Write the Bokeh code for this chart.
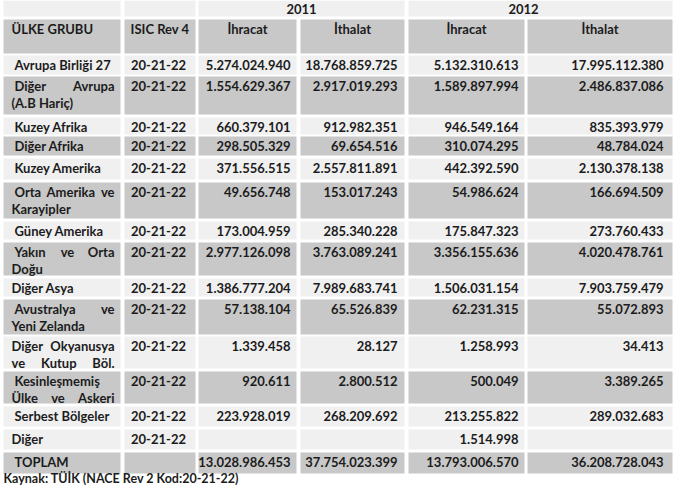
from bokeh.plotting import figure
from bokeh.models import Range1d
from bokeh.core.properties import value
from bokeh.embed import file_html
from bokeh.resources import INLINE

# ---------------- data ----------------
years = ["2011", "2012"]
col_headers = ["ÜLKE GRUBU", "ISIC Rev 4", "İhracat", "İthalat", "İhracat", "İthalat"]
groups = [
    "Avrupa Birliği 27",
    "Diğer Avrupa (A.B Hariç)",
    "Kuzey Afrika",
    "Diğer Afrika",
    "Kuzey Amerika",
    "Orta Amerika ve Karayipler",
    "Güney Amerika",
    "Yakın ve Orta Doğu",
    "Diğer Asya",
    "Avustralya ve Yeni Zelanda",
    "Diğer Okyanusya ve Kutup Böl.",
    "Kesinleşmemiş Ülke ve Askeri",
    "Serbest Bölgeler",
    "Diğer",
    "TOPLAM",
]
isic = ["20-21-22", "20-21-22", "20-21-22", "20-21-22", "20-21-22",
        "20-21-22", "20-21-22", "20-21-22", "20-21-22", "20-21-22",
        "20-21-22", "20-21-22", "20-21-22", "20-21-22", ""]
ihracat_2011 = [5274024940, 1554629367, 660379101, 298505329, 371556515,
                49656748, 173004959, 2977126098, 1386777204, 57138104,
                1339458, 920611, 223928019, None, 13028986453]
ithalat_2011 = [18768859725, 2917019293, 912982351, 69654516, 2557811891,
                153017243, 285340228, 3763089241, 7989683741, 65526839,
                28127, 2800512, 268209692, None, 37754023399]
ihracat_2012 = [5132310613, 1589897994, 946549164, 310074295, 442392590,
                54986624, 175847323, 3356155636, 1506031154, 62231315,
                1258993, 500049, 213255822, 1514998, 13793006570]
ithalat_2012 = [17995112380, 2486837086, 835393979, 48784024, 2130378138,
                166694509, 273760433, 4020478761, 7903759479, 55072893,
                34413, 3389265, 289032683, None, 36208728043]
source_note = "Kaynak: TÜİK (NACE Rev 2 Kod:20-21-22)"

# ---------------- layout (reference pixel coordinates) ----------------
col_left = [3, 124, 198, 300, 408, 527]
col_right = [120, 195, 296, 404, 524, 672]
num_right = [290, 397, 518, 663]
year_cells = [(3, 120), (124, 195), (198, 404), (408, 672)]
year_text_x = [301, 523]
year_row = (0, 16)
header_row = (19, 53)
row_top = [55, 76, 117, 136, 158, 182, 221, 242, 278, 299, 336, 371, 406, 429, 452]
row_bot = [74, 114, 134, 155, 179, 218, 239, 275, 296, 334, 368, 403, 426, 449, 473]
row_dark = [False, True, False, True, False, True, False, True, False, True,
            False, True, False, False, True]
# number of words on first line (None = single line)
wrap_after = [None, 2, None, None, None, 3, None, 3, None, 2, 2, 1, None, None, None]
justified = {(1, 0), (5, 0), (7, 0), (9, 0), (10, 0), (10, 1), (11, 1)}
indented = [True, True, True, True, True, True, True, True, False, True,
            False, True, True, False, True]
TXT_LEFT, TXT_LEFT_IND, TXT_RIGHT = 11, 14, 114
LINE0, LINE_H = 9.5, 16.5

DARK, LIGHT, INK = "#c8c8c8", "#f0f0f0", "#1c1c1c"
FONT = value("Lato")
FSIZE = 13
FS = f"{FSIZE}px"

CW = {'a': .52, 'b': .57, 'c': .46, 'd': .57, 'e': .53, 'f': .33, 'g': .51, 'ğ': .51,
      'h': .57, 'i': .25, 'ı': .25, 'k': .52, 'l': .25, 'm': .85, 'n': .57, 'o': .57,
      'ö': .57, 'p': .57, 'r': .38, 's': .43, 't': .36, 'u': .57, 'v': .51, 'y': .51,
      'z': .46, '.': .24, 'O': .76, 'Y': .62, 'A': .68, 'Ü': .72, 'B': .62, 'K': .64}


def est_w(word):
    return sum(CW.get(ch, .55) for ch in word) * FSIZE


def fmt(v):
    return "" if v is None else format(v, ",").replace(",", ".")


p = figure(width=683, height=485, x_range=Range1d(0, 683), y_range=Range1d(485, 0),
           output_backend="svg", toolbar_location=None, min_border=0,
           x_axis_location=None, y_axis_location=None)
p.outline_line_color = None
p.background_fill_color = "white"
p.border_fill_color = "white"
p.grid.visible = False

# ---- cells ----
L, R, T, B, C = [], [], [], [], []
for (a, b) in year_cells:
    L.append(a); R.append(b); T.append(year_row[0]); B.append(year_row[1]); C.append(LIGHT)
for j in range(6):
    L.append(col_left[j]); R.append(col_right[j]); T.append(header_row[0]); B.append(header_row[1]); C.append(DARK)
for i in range(len(groups)):
    for j in range(6):
        L.append(col_left[j]); R.append(col_right[j]); T.append(row_top[i]); B.append(row_bot[i])
        C.append(DARK if row_dark[i] else LIGHT)
p.quad(left=L, right=R, top=T, bottom=B, fill_color=C, line_color=None)

texts = {"left": ([], [], []), "center": ([], [], []), "right": ([], [], [])}


def put(align, x, y, t):
    texts[align][0].append(x); texts[align][1].append(y); texts[align][2].append(t)


# year row
for k, yr in enumerate(years):
    put("center", year_text_x[k], 8, yr)
# header row
hy = header_row[0] + LINE0
put("left", TXT_LEFT, hy, col_headers[0])
for j in range(1, 6):
    put("center", (col_left[j] + col_right[j]) / 2, hy, col_headers[j])

# data rows
for i, g in enumerate(groups):
    words = g.split(" ")
    lines = [words] if wrap_after[i] is None else [words[:wrap_after[i]], words[wrap_after[i]:]]
    for li, lw in enumerate(lines):
        y = row_top[i] + LINE0 + li * LINE_H
        left = TXT_LEFT_IND if (indented[i] and li == 0) else TXT_LEFT
        if (i, li) in justified and len(lw) > 1:
            put("left", left, y, lw[0])
            put("right", TXT_RIGHT, y, lw[-1])
            if len(lw) == 3:
                mid = ((left + est_w(lw[0])) + (TXT_RIGHT - est_w(lw[-1]))) / 2
                put("center", mid, y, lw[1])
        else:
            put("left", left, y, " ".join(lw))
    y0 = row_top[i] + LINE0
    put("center", 158, y0, isic[i])
    for j, series in enumerate([ihracat_2011, ithalat_2011, ihracat_2012, ithalat_2012]):
        s = fmt(series[i])
        if s:
            put("right", num_right[j], y0, s)

for align, (xs, ys, ts) in texts.items():
    if xs:
        p.text(x=xs, y=ys, text=ts, text_align=align, text_baseline="middle",
               text_font=FONT, text_font_size=FS, text_font_style="bold", text_color=INK)

p.text(x=[3], y=[478], text=[source_note], text_align="left", text_baseline="middle",
       text_font=FONT, text_font_size="12.5px", text_font_style="bold", text_color=INK)

open("out.html", "w").write(file_html(p, INLINE))
